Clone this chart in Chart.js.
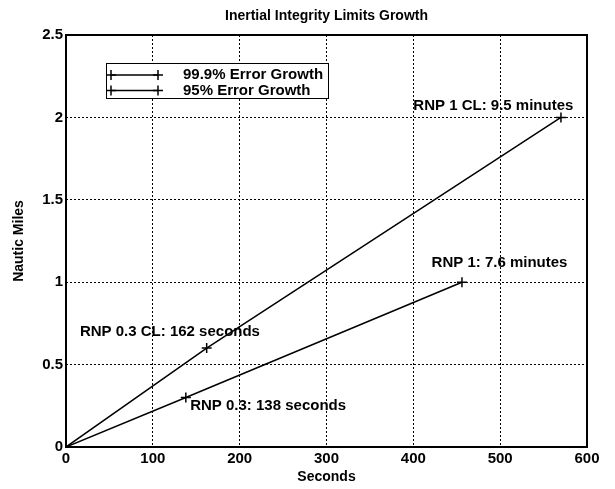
<!DOCTYPE html>
<html>
<head>
<meta charset="utf-8">
<script src="https://cdn.jsdelivr.net/npm/chart.js@4"></script>
<style>
  html, body { margin: 0; padding: 0; background: #fff; }
  #wrap { width: 615px; height: 489px; position: relative; }
</style>
</head>
<body>
<div id="wrap"><canvas id="growth-chart"></canvas></div>
<script>
// values
const secs999 = [0, 162, 570];
const miles999 = [0, 0.6, 2.0];
const secs95 = [0, 138, 456];
const miles95 = [0, 0.3, 1.0];
const seriesNames = ["99.9% Error Growth", "95% Error Growth"];

const xTicks = [0, 100, 200, 300, 400, 500, 600];
const yTicks = [0, 0.5, 1, 1.5, 2, 2.5];

// annotation text and where it sits (data units)
const noteText = ["RNP 1 CL: 9.5 minutes", "RNP 1: 7.6 minutes", "RNP 0.3 CL: 162 seconds", "RNP 0.3: 138 seconds"];
const noteX = [400, 421, 16, 143];
const noteY = [2.07, 1.12, 0.70, 0.25];

const FONT = "'Liberation Sans', Arial, sans-serif";

function toPoints(xs, ys) {
  return xs.map((x, i) => ({ x: x, y: ys[i] }));
}

function drawCross(ctx, x, y, r) {
  ctx.beginPath();
  ctx.moveTo(x - r, y); ctx.lineTo(x + r, y);
  ctx.moveTo(x, y - r); ctx.lineTo(x, y + r);
  ctx.stroke();
}

// text labels, the legend box and the axes frame (matlab look)
const extras = {
  id: "extras",
  afterDatasetsDraw(chart) {
    const ctx = chart.ctx;
    const xs = chart.scales.x, ys = chart.scales.y;
    ctx.save();
    ctx.fillStyle = "#000";
    ctx.font = "bold 15px " + FONT;
    ctx.textAlign = "left";
    ctx.textBaseline = "middle";
    noteText.forEach((t, i) => {
      ctx.fillText(t, xs.getPixelForValue(noteX[i]), ys.getPixelForValue(noteY[i]));
    });
    ctx.restore();
  },
  afterDraw(chart) {
    const ctx = chart.ctx;
    const a = chart.chartArea;
    ctx.save();

    // legend
    const bx = 106, by = 63, bw = 222, bh = 35;
    ctx.fillStyle = "#fff";
    ctx.fillRect(bx, by, bw, bh);
    ctx.strokeStyle = "#000";
    ctx.lineWidth = 1;
    ctx.strokeRect(bx + 0.5, by + 0.5, bw, bh);
    ctx.font = "bold 15px " + FONT;
    ctx.textBaseline = "middle";
    ctx.fillStyle = "#000";
    chart.data.datasets.forEach((ds, i) => {
      const ry = by + 12 + i * 15.5;
      ctx.lineWidth = 1.5;
      ctx.beginPath();
      ctx.moveTo(111, ry); ctx.lineTo(158, ry);
      ctx.stroke();
      drawCross(ctx, 111, ry, 5);
      drawCross(ctx, 158, ry, 5);
      ctx.fillText(ds.label, 183, ry);
    });

    // frame
    ctx.lineWidth = 2;
    ctx.strokeStyle = "#000";
    ctx.strokeRect(a.left, a.top, a.right - a.left, a.bottom - a.top);
    ctx.restore();
  }
};

const lineStyle = {
  showLine: true,
  borderColor: "#000",
  backgroundColor: "#000",
  borderWidth: 1.5,
  pointStyle: "cross",
  pointRadius: 5,
  pointBorderWidth: 1.5,
  pointHoverRadius: 5,
  tension: 0
};

const ctx = document.getElementById("growth-chart").getContext("2d");
new Chart(ctx, {
  type: "scatter",
  data: {
    datasets: [
      { label: seriesNames[0], data: toPoints(secs999, miles999), ...lineStyle },
      { label: seriesNames[1], data: toPoints(secs95, miles95), ...lineStyle }
    ]
  },
  options: {
    responsive: true,
    maintainAspectRatio: false,
    animation: false,
    events: [],
    layout: { padding: { top: 0, right: 28, bottom: 0, left: 0 } },
    plugins: {
      legend: { display: false },
      tooltip: { enabled: false },
      title: {
        display: true,
        text: "Inertial Integrity Limits Growth",
        fullSize: false,
        color: "#000",
        font: { family: FONT, size: 14, weight: "bold", lineHeight: 1.2 },
        padding: { top: 8, bottom: 10.2 }
      }
    },
    scales: {
      x: {
        type: "linear",
        min: 0, max: 600,
        afterBuildTicks: s => { s.ticks = xTicks.map(v => ({ value: v })); },
        afterFit: s => { s.height = 42; },
        ticks: { color: "#000", padding: 3, maxRotation: 0, callback: v => String(v), font: { family: FONT, size: 15, weight: "bold" } },
        grid: { color: "#000", lineWidth: 1, drawTicks: false },
        border: { display: false, dash: [2, 2] },
        title: {
          display: true, text: "Seconds", color: "#000",
          font: { family: FONT, size: 14, weight: "bold" },
          padding: { top: 0, bottom: 3 }
        }
      },
      y: {
        type: "linear",
        min: 0, max: 2.5,
        afterBuildTicks: s => { s.ticks = yTicks.map(v => ({ value: v })); },
        afterFit: s => { s.width = 66; },
        ticks: { color: "#000", padding: 3, callback: v => String(v), font: { family: FONT, size: 15, weight: "bold" } },
        grid: { color: "#000", lineWidth: 1, drawTicks: false },
        border: { display: false, dash: [2, 2] },
        title: {
          display: true, text: "Nautic Miles", color: "#000",
          font: { family: FONT, size: 14, weight: "bold" },
          padding: { top: 11, bottom: 0 }
        }
      }
    }
  },
  plugins: [extras]
});
</script>
</body>
</html>
